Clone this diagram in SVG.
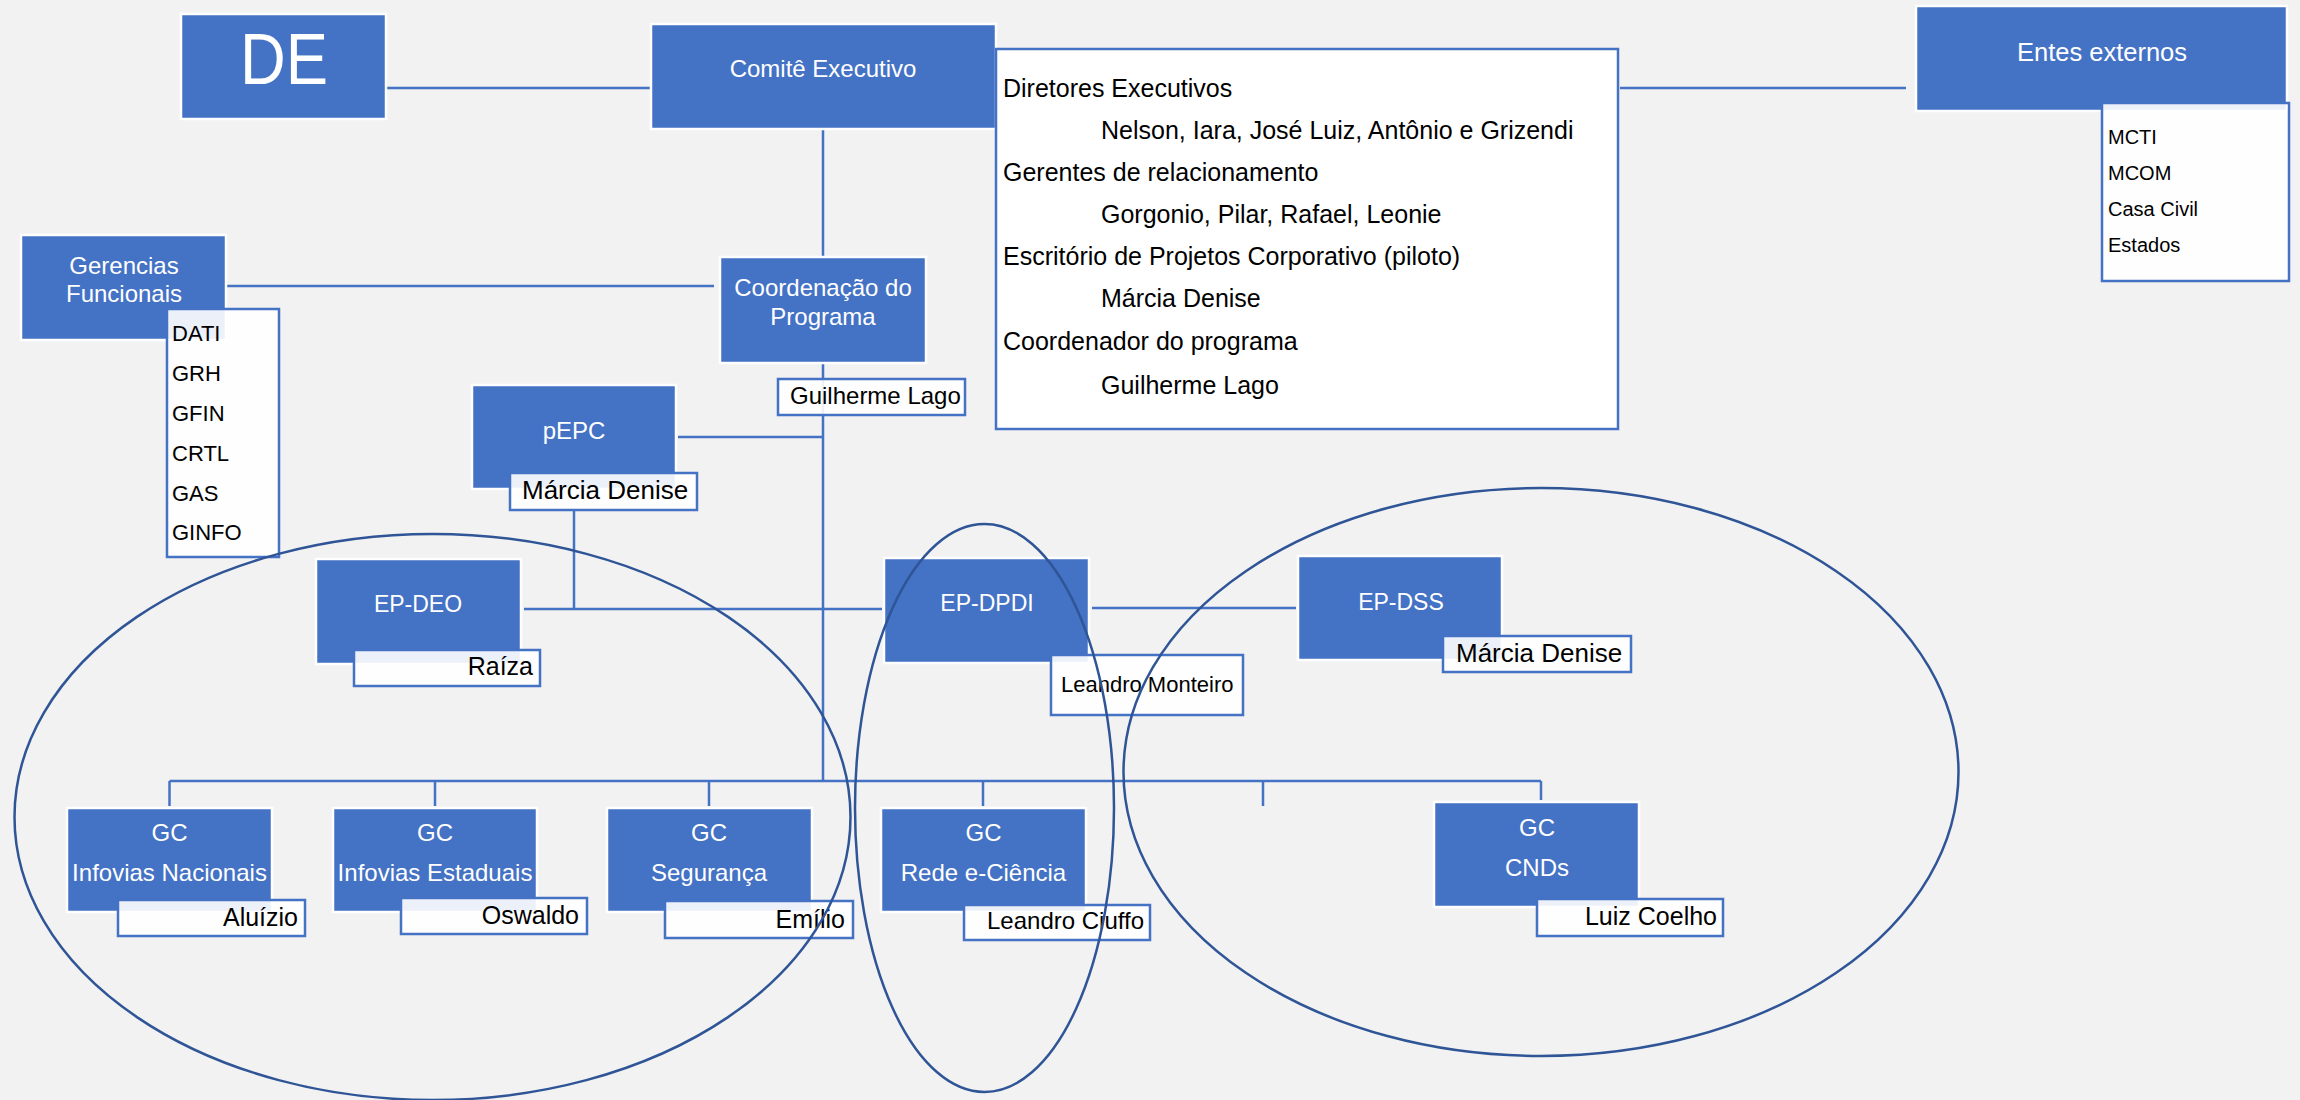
<svg xmlns="http://www.w3.org/2000/svg" width="2300" height="1100" viewBox="0 0 2300 1100">
<style>
.box{fill:#4472C4;stroke:#FFFFFF;stroke-width:2.5}
.tag{fill:#FFFFFF;fill-opacity:0.9;stroke:#4472C4;stroke-width:2.5}
.panel{fill:#FFFFFF;stroke:#4472C4;stroke-width:2.5}
.wt{font-family:'Liberation Sans',Arial,sans-serif;fill:#FFFFFF;font-size:24px;text-anchor:middle}
.bt{font-family:'Liberation Sans',Arial,sans-serif;fill:#000000;font-size:25px}
.ln{stroke:#4472C4;stroke-width:2.5;fill:none}
.ell{fill:none;stroke:#2F5597;stroke-width:2.5}
.end{text-anchor:end}
</style>
<rect x="0" y="0" width="2300" height="1100" fill="#F2F2F2"/>
<g id="connectors">
<path class="ln" d="M386,88 H650"/>
<path class="ln" d="M1620,88 H1906"/>
<path class="ln" d="M823,129 V257"/>
<path class="ln" d="M226,286 H714"/>
<path class="ln" d="M823,363 V781"/>
<path class="ln" d="M678,437 H823"/>
<path class="ln" d="M574,510 V609"/>
<path class="ln" d="M524,609 H882"/>
<path class="ln" d="M1092,608 H1296"/>
<path class="ln" d="M169.5,781 H1541"/>
<path class="ln" d="M169.5,781 V806"/>
<path class="ln" d="M435,781 V806"/>
<path class="ln" d="M709,781 V806"/>
<path class="ln" d="M983,781 V806"/>
<path class="ln" d="M1263,781 V806"/>
<path class="ln" d="M1541,781 V800"/>
</g>
<g id="node-de">
<rect class="box" x="181" y="14" width="205" height="105"/>
<text class="wt" x="284" y="84" style="font-size:72px" textLength="88" lengthAdjust="spacingAndGlyphs">DE</text>
</g>
<g id="node-comite">
<rect class="box" x="651" y="24" width="345" height="105"/>
<text class="wt" x="823" y="77">Comitê Executivo</text>
</g>
<g id="node-membros">
<rect class="panel" x="996" y="49" width="622" height="380"/>
<text class="bt" x="1003" y="97">Diretores Executivos</text>
<text class="bt" x="1101" y="139">Nelson, Iara, José Luiz, Antônio e Grizendi</text>
<text class="bt" x="1003" y="181">Gerentes de relacionamento</text>
<text class="bt" x="1101" y="223">Gorgonio, Pilar, Rafael, Leonie</text>
<text class="bt" x="1003" y="265">Escritório de Projetos Corporativo (piloto)</text>
<text class="bt" x="1101" y="307">Márcia Denise</text>
<text class="bt" x="1003" y="350">Coordenador do programa</text>
<text class="bt" x="1101" y="394">Guilherme Lago</text>
</g>
<g id="node-entes">
<rect class="box" x="1916" y="6" width="371" height="105"/>
<text class="wt" x="2102" y="61" style="font-size:25.5px">Entes externos</text>
<rect class="tag" x="2102" y="103" width="187" height="178"/>
<text class="bt" x="2108" y="144" style="font-size:20px">MCTI</text>
<text class="bt" x="2108" y="180" style="font-size:20px">MCOM</text>
<text class="bt" x="2108" y="216" style="font-size:20px">Casa Civil</text>
<text class="bt" x="2108" y="252" style="font-size:20px">Estados</text>
</g>
<g id="node-gerencias">
<rect class="box" x="21" y="235" width="205" height="105"/>
<text class="wt" x="124" y="274">Gerencias</text>
<text class="wt" x="124" y="302">Funcionais</text>
<rect class="tag" x="167" y="309" width="112" height="248"/>
<text class="bt" x="172" y="341" style="font-size:22px">DATI</text>
<text class="bt" x="172" y="381" style="font-size:22px">GRH</text>
<text class="bt" x="172" y="421" style="font-size:22px">GFIN</text>
<text class="bt" x="172" y="461" style="font-size:22px">CRTL</text>
<text class="bt" x="172" y="501" style="font-size:22px">GAS</text>
<text class="bt" x="172" y="540" style="font-size:22px">GINFO</text>
</g>
<g id="node-coordenacao">
<rect class="box" x="720" y="257" width="206" height="106"/>
<text class="wt" x="823" y="296">Coordenação do</text>
<text class="wt" x="823" y="325">Programa</text>
<rect class="tag" x="778" y="379" width="187" height="36"/>
<text class="bt" x="790" y="404" style="font-size:24px">Guilherme Lago</text>
</g>
<g id="node-pepc">
<rect class="box" x="472" y="385" width="204" height="104"/>
<text class="wt" x="574" y="439">pEPC</text>
<rect class="tag" x="510" y="473" width="187" height="37"/>
<text class="bt" x="522" y="499" style="font-size:26px">Márcia Denise</text>
</g>
<g id="node-ep-deo">
<rect class="box" x="316" y="559" width="205" height="105"/>
<text class="wt" x="418" y="612" style="font-size:23px">EP-DEO</text>
<rect class="tag" x="354" y="650" width="186" height="36"/>
<text class="bt end" x="533" y="675">Raíza</text>
</g>
<g id="node-ep-dpdi">
<rect class="box" x="884" y="558" width="205" height="105"/>
<text class="wt" x="987" y="611" style="font-size:23px">EP-DPDI</text>
<rect class="tag" x="1051" y="655" width="192" height="60"/>
<text class="bt" x="1061" y="692" style="font-size:22px">Leandro Monteiro</text>
</g>
<g id="node-ep-dss">
<rect class="box" x="1298" y="556" width="204" height="104"/>
<text class="wt" x="1401" y="610" style="font-size:23px">EP-DSS</text>
<rect class="tag" x="1443" y="636" width="188" height="36"/>
<text class="bt" x="1456" y="662" style="font-size:26px">Márcia Denise</text>
</g>
<g id="node-gc-nacionais">
<rect class="box" x="67" y="808" width="205" height="104"/>
<text class="wt" x="169.5" y="841">GC</text>
<text class="wt" x="169.5" y="881">Infovias Nacionais</text>
<rect class="tag" x="118" y="900" width="187" height="36"/>
<text class="bt end" x="298" y="926">Aluízio</text>
</g>
<g id="node-gc-estaduais">
<rect class="box" x="333" y="808" width="204" height="104"/>
<text class="wt" x="435" y="841">GC</text>
<text class="wt" x="435" y="881">Infovias Estaduais</text>
<rect class="tag" x="401" y="898" width="186" height="36"/>
<text class="bt end" x="579" y="924">Oswaldo</text>
</g>
<g id="node-gc-seguranca">
<rect class="box" x="607" y="808" width="205" height="104"/>
<text class="wt" x="709" y="841">GC</text>
<text class="wt" x="709" y="881">Segurança</text>
<rect class="tag" x="665" y="901" width="188" height="37"/>
<text class="bt end" x="845" y="928">Emílio</text>
</g>
<g id="node-gc-rede">
<rect class="box" x="881" y="808" width="205" height="104"/>
<text class="wt" x="983.5" y="841">GC</text>
<text class="wt" x="983.5" y="881">Rede e-Ciência</text>
<rect class="tag" x="964" y="905" width="186" height="35"/>
<text class="bt" x="987" y="929" style="font-size:24px">Leandro Ciuffo</text>
</g>
<g id="node-gc-cnds">
<rect class="box" x="1434" y="802" width="205" height="105"/>
<text class="wt" x="1537" y="836">GC</text>
<text class="wt" x="1537" y="876">CNDs</text>
<rect class="tag" x="1537" y="899" width="186" height="37"/>
<text class="bt end" x="1717" y="925">Luiz Coelho</text>
</g>
<g id="groupings">
<ellipse class="ell" cx="432.5" cy="817" rx="418" ry="283"/>
<ellipse class="ell" cx="984.5" cy="808" rx="129.5" ry="284"/>
<ellipse class="ell" cx="1541" cy="772" rx="417.5" ry="284"/>
</g>
</svg>
